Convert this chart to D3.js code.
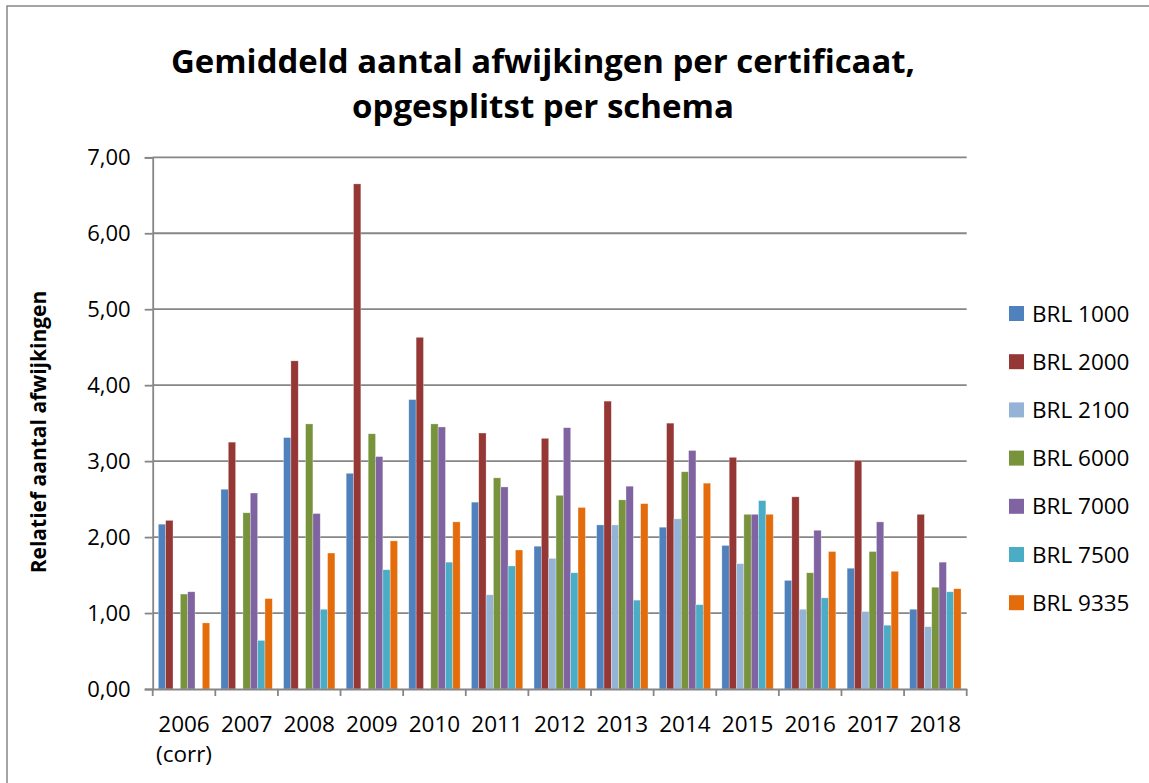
<!DOCTYPE html>
<html>
<head>
<meta charset="utf-8">
<script src="https://cdn.jsdelivr.net/npm/d3@7"></script>
<style>
  body { margin: 0; background: #fff; }
  svg { display: block; font-family: "Open Sans", "Liberation Sans", sans-serif; }
</style>
</head>
<body>
<svg id="chart" width="1149" height="783"></svg>
<script>
  // data
  var years = ["2006 (corr)", "2007", "2008", "2009", "2010", "2011", "2012",
               "2013", "2014", "2015", "2016", "2017", "2018"];
  var schemes = ["BRL 1000", "BRL 2000", "BRL 2100", "BRL 6000", "BRL 7000", "BRL 7500", "BRL 9335"];
  var colors = ["#4F81BD", "#953735", "#95B3D7", "#77933C", "#8064A2", "#4BACC6", "#E46C0A"];

  var brl1000 = [2.17, 2.63, 3.31, 2.84, 3.81, 2.46, 1.88, 2.16, 2.13, 1.89, 1.43, 1.59, 1.05];
  var brl2000 = [2.22, 3.25, 4.32, 6.65, 4.63, 3.37, 3.30, 3.79, 3.50, 3.05, 2.53, 3.01, 2.30];
  var brl2100 = [null, null, null, null, null, 1.24, 1.72, 2.16, 2.24, 1.65, 1.05, 1.02, 0.82];
  var brl6000 = [1.25, 2.32, 3.49, 3.36, 3.49, 2.78, 2.55, 2.49, 2.86, 2.30, 1.53, 1.81, 1.34];
  var brl7000 = [1.28, 2.58, 2.31, 3.06, 3.45, 2.66, 3.44, 2.67, 3.14, 2.30, 2.09, 2.20, 1.67];
  var brl7500 = [null, 0.64, 1.05, 1.57, 1.67, 1.62, 1.53, 1.17, 1.11, 2.48, 1.20, 0.84, 1.28];
  var brl9335 = [0.87, 1.19, 1.79, 1.95, 2.20, 1.83, 2.39, 2.44, 2.71, 2.30, 1.81, 1.55, 1.32];

  var yTicks = [0, 1, 2, 3, 4, 5, 6, 7];

  var series = [brl1000, brl2000, brl2100, brl6000, brl7000, brl7500, brl9335];

  var svg = d3.select("#chart");
  var plotLeft = 152.7, plotRight = 966.7, plotTop = 157.3, plotBottom = 689;

  // outer chart frame
  svg.append("rect")
    .attr("x", 7).attr("y", 6).attr("width", 1160).attr("height", 800)
    .attr("fill", "none").attr("stroke", "#868686").attr("stroke-width", 1.5);

  var x0 = d3.scaleBand().domain(years).range([plotLeft, plotRight]);
  var x1 = d3.scaleBand().domain(schemes)
    .range([x0.bandwidth() * 0.09, x0.bandwidth() * 0.91]);
  var y = d3.scaleLinear().domain([0, 7]).range([plotBottom, plotTop]);
  var fmt = function(d) { return d3.format(".2f")(d).replace(".", ","); };

  // gridlines
  svg.append("g").selectAll("line").data(yTicks.slice(1)).join("line")
    .attr("x1", plotLeft).attr("x2", plotRight)
    .attr("y1", function(d) { return y(d); }).attr("y2", function(d) { return y(d); })
    .attr("stroke", "#868686").attr("stroke-width", 1.8);

  // bars
  var groups = svg.append("g").selectAll("g").data(years).join("g")
    .attr("transform", function(d) { return "translate(" + x0(d) + ",0)"; });

  groups.selectAll("rect")
    .data(function(d, i) {
      return schemes.map(function(s, j) { return { key: s, idx: j, value: series[j][i] }; })
        .filter(function(e) { return e.value !== null; });
    })
    .join("rect")
    .attr("x", function(d) { return x1(d.key); })
    .attr("width", x1.bandwidth())
    .attr("y", function(d) { return y(d.value); })
    .attr("height", function(d) { return y(0) - y(d.value); })
    .attr("fill", function(d) { return colors[d.idx]; })
    .attr("stroke", "rgba(255,255,255,0.5)").attr("stroke-width", 0.6);

  // y axis
  var yAxis = svg.append("g").attr("transform", "translate(" + plotLeft + ",0)")
    .call(d3.axisLeft(y).tickValues(yTicks).tickFormat(fmt).tickSize(8).tickPadding(14));
  yAxis.select(".domain").attr("stroke", "#868686").attr("stroke-width", 1.8);
  yAxis.selectAll(".tick line").attr("stroke", "#868686").attr("stroke-width", 1.8);
  yAxis.selectAll("text").attr("font-size", 22).attr("fill", "#000")
    .attr("font-family", "Open Sans");

  // x axis
  var xAxis = svg.append("g").attr("transform", "translate(0," + plotBottom + ")")
    .call(d3.axisBottom(x0).tickSize(0).tickFormat(""));
  xAxis.select(".domain").attr("stroke", "#868686").attr("stroke-width", 1.8);
  xAxis.selectAll(".tick").remove();

  var bounds = years.map(function(d) { return x0(d); }).concat([plotRight]);
  svg.append("g").selectAll("line").data(bounds).join("line")
    .attr("x1", function(d) { return d; }).attr("x2", function(d) { return d; })
    .attr("y1", plotBottom).attr("y2", plotBottom + 7)
    .attr("stroke", "#868686").attr("stroke-width", 1.8);

  var xl = svg.append("g").selectAll("text").data(years).join("text")
    .attr("x", function(d) { return x0(d) + x0.bandwidth() / 2; })
    .attr("y", 732)
    .attr("text-anchor", "middle")
    .attr("font-size", 22.5)
    .attr("fill", "#000");
  xl.each(function(d) {
    var parts = d.split(" ");
    var t = d3.select(this);
    parts.forEach(function(p, k) {
      t.append("tspan").attr("x", t.attr("x")).attr("dy", k === 0 ? 0 : 30).text(p);
    });
  });

  // y axis title
  svg.append("text")
    .attr("transform", "translate(46,432) rotate(-90)")
    .attr("text-anchor", "middle")
    .attr("font-size", 21).attr("font-weight", "bold")
    .text("Relatief aantal afwijkingen");

  // chart title
  var titleLines = ["Gemiddeld aantal afwijkingen per certificaat,", "opgesplitst per schema"];
  var titleWidths = [744, 382];
  svg.append("g").selectAll("text").data(titleLines).join("text")
    .attr("x", 543)
    .attr("y", function(d, i) { return 73 + i * 45; })
    .attr("text-anchor", "middle")
    .attr("font-size", 33).attr("font-weight", "bold")
    .attr("textLength", function(d, i) { return titleWidths[i]; })
    .attr("lengthAdjust", "spacingAndGlyphs")
    .text(function(d) { return d; });

  // legend
  var legend = svg.append("g").selectAll("g").data(schemes).join("g")
    .attr("transform", function(d, i) { return "translate(1009," + (306 + i * 48.2) + ")"; });
  legend.append("rect").attr("width", 15).attr("height", 15)
    .attr("fill", function(d, i) { return colors[i]; });
  legend.append("text").attr("x", 23).attr("y", 15.5)
    .attr("font-size", 22.5).attr("fill", "#000")
    .text(function(d) { return d; });
</script>
</body>
</html>
